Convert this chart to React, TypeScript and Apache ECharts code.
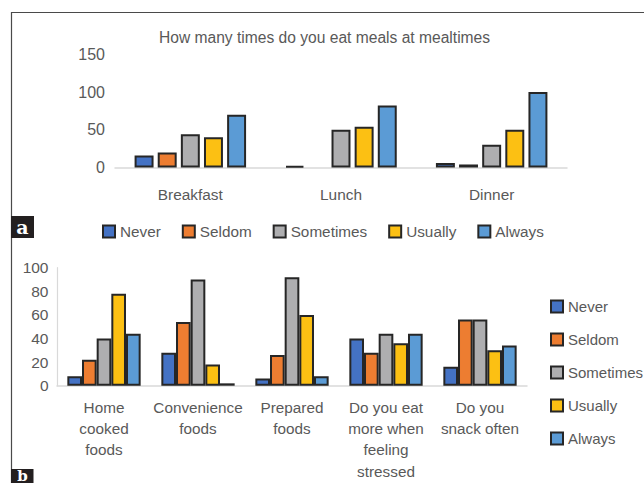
import React, { useEffect, useRef } from "react";
import * as echarts from "echarts";

// Panel a: meals at mealtimes
const mealCategories = ["Breakfast", "Lunch", "Dinner"];
const mealNever = [16, 2, 6];
const mealSeldom = [20, 0, 4];
const mealSometimes = [44, 50, 30];
const mealUsually = [40, 54, 50];
const mealAlways = [70, 82, 100];
const mealTicks = [0, 50, 100, 150];

// Panel b: eating habits
const habitCategories = [
  "Home\ncooked\nfoods",
  "Convenience\nfoods",
  "Prepared\nfoods",
  "Do you eat\nmore when\nfeeling\nstressed",
  "Do you\nsnack often",
];
const habitNever = [8, 28, 6, 40, 16];
const habitSeldom = [22, 54, 26, 28, 56];
const habitSometimes = [40, 90, 92, 44, 56];
const habitUsually = [78, 18, 60, 36, 30];
const habitAlways = [44, 2, 8, 44, 34];
const habitTicks = [0, 20, 40, 60, 80, 100];

const levels = ["Never", "Seldom", "Sometimes", "Usually", "Always"];
const levelColors = ["#4472C4", "#ED7D31", "#AEAEB0", "#FCC013", "#5B9BD5"];

const FONT = "'Liberation Sans', Arial, sans-serif";
const TEXT = "#595959";
const EDGE = "#262626";

// zero-valued bars get no outline, so they leave no mark on the baseline
const toBarData = (values: number[]) =>
  values.map((v) => (v === 0 ? { value: v, itemStyle: { borderWidth: 0 } } : v));

export default function App() {
  const ref = useRef<HTMLDivElement>(null);

  useEffect(() => {
    if (!ref.current) return;
    const chart = echarts.init(ref.current, undefined, { renderer: "svg" });

    const mealData = [mealNever, mealSeldom, mealSometimes, mealUsually, mealAlways];
    const habitData = [habitNever, habitSeldom, habitSometimes, habitUsually, habitAlways];

    const barStyle = (i: number) => ({
      color: levelColors[i],
      borderColor: EDGE,
      borderWidth: 2,
    });

    const series: any[] = [];
    levels.forEach((name, i) => {
      series.push({
        type: "bar",
        name,
        xAxisIndex: 0,
        yAxisIndex: 0,
        data: toBarData(mealData[i]),
        barGap: "22%",
        barCategoryGap: "26%",
        itemStyle: barStyle(i),
      });
    });
    levels.forEach((name, i) => {
      series.push({
        type: "bar",
        name,
        xAxisIndex: 1,
        yAxisIndex: 1,
        data: toBarData(habitData[i]),
        barGap: "0%",
        barCategoryGap: "22%",
        itemStyle: barStyle(i),
      });
    });

    const legendBase = {
      data: levels,
      icon: "rect",
      itemWidth: 12,
      itemHeight: 12,
      padding: 0,
      itemStyle: { borderColor: EDGE, borderWidth: 2 },
      textStyle: { fontFamily: FONT, fontSize: 15.3, color: TEXT },
      selectedMode: false,
    };

    chart.setOption({
      animation: false,
      title: {
        text: "How many times do you eat meals at mealtimes",
        left: 154,
        top: 24,
        textStyle: { fontFamily: FONT, fontSize: 15.6, fontWeight: "normal", color: TEXT },
      },
      legend: [
        {
          ...legendBase,
          orient: "horizontal",
          left: 102,
          top: 224,
          itemGap: 21,
        },
        {
          ...legendBase,
          orient: "vertical",
          left: 550,
          top: 299,
          itemGap: 18,
          textStyle: { ...legendBase.textStyle, fontSize: 15 },
        },
      ],
      grid: [
        { left: 115, right: 77, top: 54.3, bottom: 315.5 },
        { left: 57, right: 117, top: 267.7, bottom: 97.3 },
      ],
      xAxis: [
        {
          type: "category",
          gridIndex: 0,
          data: mealCategories,
          axisLine: { lineStyle: { color: "#D9D9D9", width: 1.5 } },
          axisTick: { show: false },
          axisLabel: { fontFamily: FONT, fontSize: 15.4, color: TEXT, margin: 19 },
        },
        {
          type: "category",
          gridIndex: 1,
          data: habitCategories,
          axisLine: { lineStyle: { color: "#D9D9D9", width: 1.5 } },
          axisTick: { show: false },
          axisLabel: {
            fontFamily: FONT,
            fontSize: 15.3,
            color: TEXT,
            margin: 11,
            lineHeight: 21.3,
            interval: 0,
          },
        },
      ],
      yAxis: [
        {
          type: "value",
          gridIndex: 0,
          min: mealTicks[0],
          max: mealTicks[mealTicks.length - 1],
          interval: mealTicks[1] - mealTicks[0],
          axisLine: { show: false },
          axisTick: { show: false },
          splitLine: { show: false },
          axisLabel: { fontFamily: FONT, fontSize: 16, color: TEXT, margin: 10 },
        },
        {
          type: "value",
          gridIndex: 1,
          min: habitTicks[0],
          max: habitTicks[habitTicks.length - 1],
          interval: habitTicks[1] - habitTicks[0],
          axisLine: { show: true, lineStyle: { color: "#D9D9D9", width: 1.2 } },
          axisTick: { show: false },
          splitLine: { show: false },
          axisLabel: { fontFamily: FONT, fontSize: 15.5, color: TEXT, margin: 8.5 },
        },
      ],
      series,
      graphic: [
        {
          type: "polyline",
          silent: true,
          shape: { points: [[11.5, 484], [11.5, 12.5], [645, 12.5]] },
          style: { stroke: "#4A4A4A", lineWidth: 1.2, fill: null },
        },
        {
          type: "rect",
          silent: true,
          shape: { x: 11, y: 216, width: 23, height: 22 },
          style: { fill: "#231F20" },
        },
        {
          type: "text",
          silent: true,
          x: 22.5,
          y: 227,
          style: {
            text: "a",
            fill: "#FFFFFF",
            font: "bold 19px 'DejaVu Serif', 'Liberation Serif', serif",
            align: "center",
            verticalAlign: "middle",
          },
        },
        {
          type: "rect",
          silent: true,
          shape: { x: 11, y: 469, width: 22.5, height: 20 },
          style: { fill: "#231F20" },
        },
        {
          type: "text",
          silent: true,
          x: 22.5,
          y: 483,
          style: {
            text: "b",
            fill: "#FFFFFF",
            font: "bold 15px 'DejaVu Serif', 'Liberation Serif', serif",
            align: "center",
            verticalAlign: "bottom",
          },
        },
      ],
    });

    return () => chart.dispose();
  }, []);

  return (
    <div
      ref={ref}
      style={{ position: "fixed", left: 0, top: 0, width: 644, height: 483, background: "#FFFFFF" }}
    />
  );
}
